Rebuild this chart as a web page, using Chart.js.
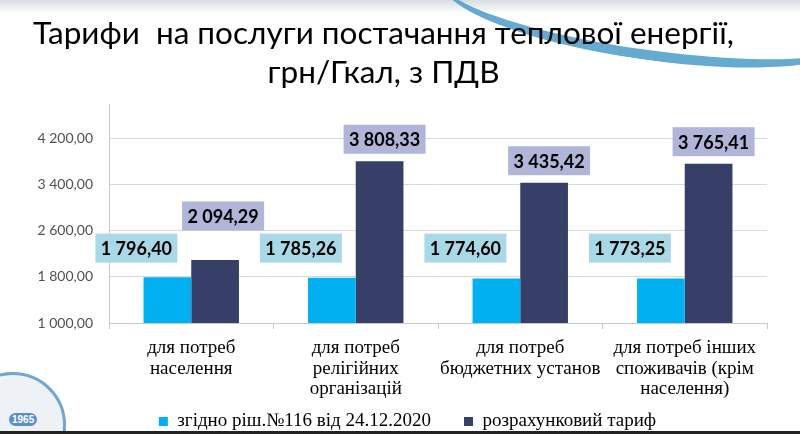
<!DOCTYPE html>
<html>
<head>
<meta charset="utf-8">
<script src="https://cdn.jsdelivr.net/npm/chart.js@4.4.1/dist/chart.umd.min.js"></script>
<style>
  html, body { margin: 0; padding: 0; background: #fff; }
  #wrap { position: relative; width: 800px; height: 434px; overflow: hidden;
    background: linear-gradient(180deg, #d9dde2 0px, #ffffff 14px, #ffffff 100%); }
  #swoosh { position: absolute; right: -60px; top: -40px; width: 420px; height: 90px;
    border-radius: 50%; border-bottom: 10px solid #4a9cc9; transform: rotate(8deg); opacity: 0.85; }
  #logo { position: absolute; left: -40px; top: 372px; width: 100px; height: 100px;
    border-radius: 50%; border: 3px solid #6fa6d6; background: #eef1f5; }
  #logo span { position: absolute; left: 46px; top: 38px; font: bold 10px "Liberation Sans"; color: #fff;
    background: #5b8fc7; border-radius: 8px; padding: 1px 3px; }
  #bottom { position: absolute; left: 0; top: 431px; width: 800px; height: 3px; background: #222; z-index: 2; }
  canvas { position: absolute; left: 0; top: 0; }
</style>
</head>
<body>
<div id="wrap">
  <div id="swoosh"></div>
  <div id="logo"><span>1965</span></div>
  <canvas id="tariffChart" width="800" height="441"></canvas>
  <div id="bottom"></div>
</div>
<script>
const categories = [
  ["для потреб", "населення"],
  ["для потреб", "релігійних", "організацій"],
  ["для потреб", "бюджетних установ"],
  ["для потреб інших", "споживачів (крім", "населення)"]
];
const approvedTariff = [1796.40, 1785.26, 1774.60, 1773.25];
const calculatedTariff = [2094.29, 3808.33, 3435.42, 3765.41];
const tickValues = [1000, 1800, 2600, 3400, 4200];
const seriesNames = ["згідно ріш.№116 від 24.12.2020", "розрахунковий тариф"];

function formatUa(v) {
  const parts = v.toFixed(2).split(".");
  const int = parts[0].replace(/\B(?=(\d{3})+(?!\d))/g, " ");
  return int + "," + parts[1];
}

// label boxes drawn over the bars, shifted like in the slide
const labelBoxes = {
  id: "labelBoxes",
  afterLayout(chart) {
    // let the 3-line category labels run below the short x axis box
    chart.scales.x.bottom = chart.height;
    // legend sits a bit right of centre on the slide
    chart.legend.left += 24;
    chart.legend.right += 24;
  },
  afterDatasetsDraw(chart) {
    const ctx = chart.ctx;
    const bg = ["#a9d9e6", "#b1b6d9"];
    ctx.save();
    ctx.font = "bold 18px Lato";
    ctx.textAlign = "center";
    ctx.textBaseline = "middle";
    chart.data.datasets.forEach((ds, di) => {
      const meta = chart.getDatasetMeta(di);
      meta.data.forEach((bar, i) => {
        const text = formatUa(ds.data[i]);
        let cx, cy;
        if (di === 0) {
          cx = bar.x - 31;
          cy = chart.scales.y.getPixelForValue(2300);
        } else {
          cx = bar.x + (i === 0 ? 8 : 5);
          cy = i === 0 ? bar.y - 44 : bar.y - 22;
        }
        const w = 82, h = 29;
        ctx.fillStyle = bg[di];
        ctx.fillRect(cx - w / 2, cy - h / 2, w, h);
        ctx.fillStyle = "#000";
        ctx.fillText(text, cx, cy + 1);
      });
    });
    ctx.restore();
  }
};

new Chart(document.getElementById("tariffChart").getContext("2d"), {
  type: "bar",
  data: {
    labels: categories,
    datasets: [
      { label: seriesNames[0], data: approvedTariff, backgroundColor: "#00b0f0" },
      { label: seriesNames[1], data: calculatedTariff, backgroundColor: "#353f68" }
    ]
  },
  options: {
    responsive: false,
    animation: false,
    layout: { padding: { left: 0, right: 33, top: 0, bottom: 0 } },
    datasets: { bar: { categoryPercentage: 0.58, barPercentage: 1 } },
    scales: {
      x: {
        grid: { display: true, drawOnChartArea: false, tickLength: 6, color: "#c8c8c8", offset: true },
        border: { color: "#c8c8c8" },
        ticks: { color: "#000", font: { family: "Liberation Serif", size: 19, lineHeight: 1.08 }, padding: 9, maxRotation: 0, autoSkip: false },
        afterFit(scale) { scale.height = 56; }
      },
      y: {
        min: 1000,
        max: 4800,
        afterBuildTicks(axis) { axis.ticks = tickValues.map(v => ({ value: v })); },
        grid: { color: "#d9d9d9", drawTicks: false },
        border: { color: "#c8c8c8" },
        ticks: {
          color: "#505050",
          font: { family: "Lato", size: 14 },
          padding: 16,
          callback: v => formatUa(v)
        },
        afterFit(scale) { scale.width = 109; }
      }
    },
    plugins: {
      title: {
        display: true,
        text: ["Тарифи  на послуги постачання теплової енергії,", "грн/Гкал, з ПДВ"],
        color: "#000",
        font: { family: "Lato", size: 31.5, weight: "normal", lineHeight: 1.24 },
        padding: { top: 14, bottom: 12 }
      },
      legend: {
        position: "bottom",
        labels: {
          color: "#000",
          font: { family: "Liberation Serif", size: 19 },
          boxWidth: 9, boxHeight: 9,
          padding: 33
        }
      },
      tooltip: { enabled: false }
    }
  },
  plugins: [labelBoxes]
});
</script>
</body>
</html>
